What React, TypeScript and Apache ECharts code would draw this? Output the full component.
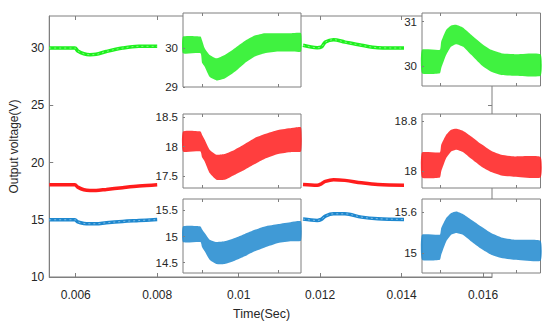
import React, { useEffect, useRef } from 'react';
import * as echarts from 'echarts';

// ---------- main plot data ----------
const mainXTicks = [0.006, 0.008, 0.01, 0.012, 0.014, 0.016];
const mainYTicks = [10, 15, 20, 25, 30];

const tMain1 = [0.00535, 0.00598, 0.00605, 0.0062, 0.00635, 0.0065, 0.00675, 0.00715, 0.00755, 0.008];
const greenMain1 = [30, 30, 29.75, 29.5, 29.42, 29.45, 29.7, 30.0, 30.15, 30.15];
const redMain1 = [18.06, 18.06, 17.85, 17.62, 17.56, 17.56, 17.65, 17.8, 17.94, 18.06];
const blueMain1 = [15.0, 15.0, 14.82, 14.68, 14.65, 14.65, 14.74, 14.85, 14.93, 15.02];

const tMain2 = [0.01158, 0.011928, 0.01203, 0.012129, 0.01233, 0.01261, 0.013015, 0.013417, 0.01406];
const greenMain2 = [30.24, 30.03, 30.09, 30.52, 30.73, 30.52, 30.24, 30.03, 30.0];
const redMain2 = [18.08, 18.02, 18.14, 18.35, 18.5, 18.44, 18.23, 18.08, 18.02];
const blueMain2 = [15.06, 14.94, 15.03, 15.32, 15.52, 15.52, 15.23, 15.09, 15.03];

// ---------- inset data (ripple envelopes) ----------
const tLeft = [0.00575, 0.00598, 0.006, 0.006035, 0.0061, 0.006189, 0.006298, 0.00643, 0.006561, 0.006693, 0.006825, 0.007, 0.007175, 0.0073];
const greenL_hi = [30.295, 30.295, 30.2, 29.995, 29.82, 29.735, 29.82, 29.995, 30.18, 30.32, 30.38, 30.38, 30.38, 30.38];
const greenL_lo = [29.865, 29.865, 29.62, 29.52, 29.26, 29.17, 29.22, 29.39, 29.61, 29.78, 29.865, 29.91, 29.91, 29.91];
const redL_hi = [18.256, 18.256, 18.2, 18.116, 17.947, 17.862, 17.874, 17.947, 18.043, 18.145, 18.212, 18.28, 18.313, 18.324];
const redL_lo = [17.918, 17.918, 17.82, 17.749, 17.553, 17.44, 17.44, 17.525, 17.61, 17.705, 17.795, 17.874, 17.908, 17.918];
const blueL_hi = [15.194, 15.194, 15.14, 15.068, 14.94, 14.895, 14.907, 14.97, 15.05, 15.13, 15.194, 15.24, 15.28, 15.29];
const blueL_lo = [14.895, 14.895, 14.8, 14.715, 14.555, 14.473, 14.473, 14.536, 14.62, 14.715, 14.79, 14.876, 14.907, 14.92];

const tRight = [0.01176, 0.011995, 0.012013, 0.012079, 0.012144, 0.01221, 0.012298, 0.012408, 0.012539, 0.012671, 0.012803, 0.012978, 0.01332];
const greenR_hi = [30.367, 30.367, 30.553, 30.816, 30.912, 30.928, 30.867, 30.703, 30.517, 30.367, 30.293, 30.27, 30.27];
const greenR_lo = [29.845, 29.845, 29.957, 30.255, 30.441, 30.495, 30.441, 30.255, 30.031, 29.88, 29.807, 29.79, 29.79];
const redR_hi = [18.302, 18.302, 18.426, 18.587, 18.667, 18.683, 18.651, 18.56, 18.437, 18.33, 18.265, 18.238, 18.228];
const redR_lo = [17.9, 17.9, 17.997, 18.212, 18.318, 18.346, 18.309, 18.2, 18.077, 17.987, 17.933, 17.912, 17.9];
const blueR_hi = [15.269, 15.269, 15.369, 15.517, 15.592, 15.615, 15.577, 15.492, 15.392, 15.294, 15.229, 15.195, 15.18];
const blueR_lo = [14.898, 14.898, 14.972, 15.17, 15.269, 15.294, 15.269, 15.17, 15.061, 14.972, 14.923, 14.898, 14.883];

const leftXTicks = [0.006, 0.007];
const rightXTicks = [0.012, 0.013];

// inset y-axis tick labels
const inset1YTicks = [29, 30];
const inset2YTicks = [17.5, 18, 18.5];
const inset3YTicks = [14.5, 15, 15.5];
const inset4YTicks = [30, 31];
const inset5YTicks = [18, 18.8];
const inset6YTicks = [15, 15.6];

const FONT = 'Liberation Sans, Arial, Helvetica, sans-serif';
const AX = '#7f7f7f';
const TXT = '#262626';
const GREEN = '#1ef01e';
const RED = '#ff1c1c';
const BLUE = '#1e88cf';

interface InsetDef {
  grid: { left: number; top: number; width: number; height: number };
  xRange: [number, number];
  xTicks: number[];
  yRange: [number, number];
  yTicks: number[];
  t: number[];
  hi: number[];
  lo: number[];
  color: string;
}

const insets: InsetDef[] = [
  { grid: { left: 183, top: 13, width: 118, height: 74 }, xRange: [0.00575, 0.0073], xTicks: leftXTicks, yRange: [29, 30.9], yTicks: inset1YTicks, t: tLeft, hi: greenL_hi, lo: greenL_lo, color: GREEN },
  { grid: { left: 183, top: 114, width: 118, height: 74 }, xRange: [0.00575, 0.0073], xTicks: leftXTicks, yRange: [17.3, 18.55], yTicks: inset2YTicks, t: tLeft, hi: redL_hi, lo: redL_lo, color: RED },
  { grid: { left: 183, top: 199, width: 118, height: 74 }, xRange: [0.00575, 0.0073], xTicks: leftXTicks, yRange: [14.3, 15.72], yTicks: inset3YTicks, t: tLeft, hi: blueL_hi, lo: blueL_lo, color: BLUE },
  { grid: { left: 422, top: 13, width: 118.5, height: 73 }, xRange: [0.01176, 0.01332], xTicks: rightXTicks, yRange: [29.56, 31.19], yTicks: inset4YTicks, t: tRight, hi: greenR_hi, lo: greenR_lo, color: GREEN },
  { grid: { left: 422, top: 114, width: 118.5, height: 74 }, xRange: [0.01176, 0.01332], xTicks: rightXTicks, yRange: [17.73, 18.92], yTicks: inset5YTicks, t: tRight, hi: redR_hi, lo: redR_lo, color: RED },
  { grid: { left: 422, top: 199, width: 118.5, height: 74 }, xRange: [0.01176, 0.01332], xTicks: rightXTicks, yRange: [14.7, 15.8], yTicks: inset6YTicks, t: tRight, hi: blueR_hi, lo: blueR_lo, color: BLUE },
];

function buildOption(): any {
  const grid: any[] = [
    { left: 42, top: 16, width: 450, height: 261, show: true, borderColor: AX, borderWidth: 1, backgroundColor: 'transparent' },
  ];
  const xAxis: any[] = [
    {
      type: 'value', gridIndex: 0, min: 0.00535, max: 0.01622, position: 'bottom',
      axisLine: { show: true, lineStyle: { color: AX } },
      axisTick: { show: true, inside: true, length: 4, customValues: mainXTicks, lineStyle: { color: AX } },
      axisLabel: { customValues: mainXTicks, margin: 12, color: TXT, fontSize: 12, fontFamily: FONT, formatter: (v: number) => String(v) },
      splitLine: { show: false },
      name: 'Time(Sec)', nameLocation: 'middle', nameGap: 30,
      nameTextStyle: { color: TXT, fontSize: 12.5, fontFamily: FONT, padding: [0, 18, 0, 0] },
    },
    {
      type: 'value', gridIndex: 0, min: 0.00535, max: 0.01622, position: 'top',
      axisLine: { show: false },
      axisTick: { show: true, inside: true, length: 4, customValues: mainXTicks, lineStyle: { color: AX } },
      axisLabel: { show: false }, splitLine: { show: false },
    },
  ];
  const yAxis: any[] = [
    {
      type: 'value', gridIndex: 0, min: 10, max: 32.8, position: 'left',
      axisLine: { show: true, lineStyle: { color: AX } },
      axisTick: { show: true, inside: true, length: 4, customValues: mainYTicks, lineStyle: { color: AX } },
      axisLabel: { customValues: mainYTicks, margin: 5, color: TXT, fontSize: 12, fontFamily: FONT },
      splitLine: { show: false },
      name: 'Output voltage(V)', nameLocation: 'middle', nameGap: 20,
      nameTextStyle: { color: TXT, fontSize: 12, fontFamily: FONT },
    },
    {
      type: 'value', gridIndex: 0, min: 10, max: 32.8, position: 'right',
      axisLine: { show: false },
      axisTick: { show: true, inside: true, length: 4, customValues: mainYTicks, lineStyle: { color: AX } },
      axisLabel: { show: false }, splitLine: { show: false },
    },
  ];

  const series: any[] = [];
  const mainLine = (t: number[], v: number[], color: string) => ({
    type: 'line', xAxisIndex: 0, yAxisIndex: 0, z: 2, silent: true,
    data: t.map((x, i) => [x, v[i]]), showSymbol: false, smooth: 0.35,
    lineStyle: { color, width: 3.5 },
  });
  const mainTexture = (t: number[], v: number[]) => ({
    type: 'line', xAxisIndex: 0, yAxisIndex: 0, z: 3, silent: true,
    data: t.map((x, i) => [x, v[i]]), showSymbol: false, smooth: 0.35,
    lineStyle: { color: '#ffffff', width: 1, type: [2, 3], opacity: 0.45 },
  });
  series.push(mainLine(tMain1, greenMain1, GREEN), mainLine(tMain1, redMain1, RED), mainLine(tMain1, blueMain1, BLUE));
  series.push(mainLine(tMain2, greenMain2, GREEN), mainLine(tMain2, redMain2, RED), mainLine(tMain2, blueMain2, BLUE));
  series.push(mainTexture(tMain1, greenMain1), mainTexture(tMain2, greenMain2), mainTexture(tMain1, blueMain1), mainTexture(tMain2, blueMain2));

  insets.forEach((ins, k) => {
    const gi = k + 1;
    grid.push({ ...ins.grid, show: true, backgroundColor: '#ffffff', borderColor: AX, borderWidth: 1, z: 10 });
    const xb = xAxis.length;
    xAxis.push({
      type: 'value', gridIndex: gi, min: ins.xRange[0], max: ins.xRange[1], position: 'bottom', z: 12,
      axisLine: { show: false },
      axisTick: { show: true, inside: true, length: 3, customValues: ins.xTicks, lineStyle: { color: AX } },
      axisLabel: { show: false }, splitLine: { show: false },
    });
    xAxis.push({
      type: 'value', gridIndex: gi, min: ins.xRange[0], max: ins.xRange[1], position: 'top', z: 12,
      axisLine: { show: false },
      axisTick: { show: true, inside: true, length: 3, customValues: ins.xTicks, lineStyle: { color: AX } },
      axisLabel: { show: false }, splitLine: { show: false },
    });
    const yb = yAxis.length;
    yAxis.push({
      type: 'value', gridIndex: gi, min: ins.yRange[0], max: ins.yRange[1], position: 'left', z: 12,
      axisLine: { show: false },
      axisTick: { show: true, inside: true, length: 2, customValues: ins.yTicks, lineStyle: { color: AX } },
      axisLabel: { customValues: ins.yTicks, margin: 5, color: TXT, fontSize: 11.5, fontFamily: FONT },
      splitLine: { show: false },
    });
    const t = ins.t, hi = ins.hi, lo = ins.lo;
    series.push({
      type: 'custom', xAxisIndex: xb, yAxisIndex: yb, z: 11, silent: true,
      data: [[t[0], lo[0]]],
      renderItem: (_p: any, api: any) => {
        const pts: number[][] = [];
        for (let i = 0; i < t.length; i++) pts.push(api.coord([t[i], hi[i]]));
        for (let i = t.length - 1; i >= 0; i--) pts.push(api.coord([t[i], lo[i]]));
        return { type: 'polygon', shape: { points: pts, smooth: 0.15 }, style: { fill: ins.color, opacity: 0.85 } };
      },
    });
  });

  return { animation: false, backgroundColor: '#ffffff', grid, xAxis, yAxis, series };
}

export default function App() {
  const ref = useRef<HTMLDivElement>(null);
  useEffect(() => {
    const chart = echarts.init(ref.current!, null, { renderer: 'svg', width: 550, height: 325 });
    chart.setOption(buildOption());
    return () => chart.dispose();
  }, []);
  return <div ref={ref} style={{ position: 'fixed', left: 0, top: 0, width: 550, height: 325, background: '#fff' }} />;
}
